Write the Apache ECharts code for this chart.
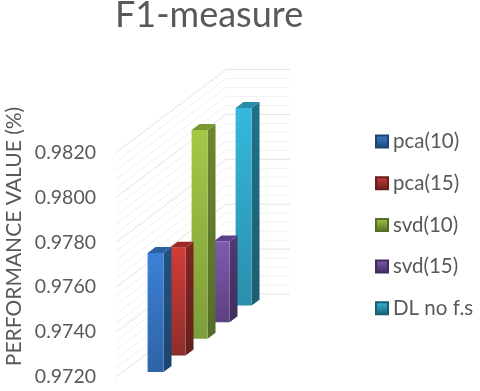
<!DOCTYPE html>
<html>
<head>
<meta charset="utf-8">
<style>
html, body { margin: 0; padding: 0; background: #fff; }
#chart { width: 480px; height: 391px; }
</style>
<script src="https://cdn.jsdelivr.net/npm/echarts@6/dist/echarts.min.js"></script>
</head>
<body>
<div id="chart"></div>
<script>
// values
const seriesNames = ['pca(10)', 'pca(15)', 'svd(10)', 'svd(15)', 'DL no f.s'];
const seriesValues = [0.9773, 0.9768, 0.9813, 0.9756, 0.9808];
const wallTicks = [];
for (let k = 0; k <= 25; k++) wallTicks.push(k);

const frontTop = ['#3c80d6', '#d33c37', '#a3c846', '#8159b0', '#35b8dc'];
const frontBottom = ['#2d64a6', '#8e2e2b', '#7d9e3a', '#5c4180', '#2a8eab'];
const sideTop = ['#22527f', '#7e2624', '#6c8830', '#4f3a72', '#21718a'];
const sideBottom = ['#1c4470', '#661f1d', '#546c27', '#3f2e5c', '#1b5d72'];
const topColor = ['#2c5f9e', '#9c2a27', '#7a9a30', '#5b3f88', '#2a8ca8'];

const yMin = 0.972;
const yMax = 0.982;
const wallWidth = 64;     // width of the floor, px
const skew = 83 / 110;    // rise of the depth axis

// oblique projection on top of the cartesian scales
function project(api, w, d, v) {
	let c = api.coord([d, v]);
	let x0 = api.coord([0, v])[0];
	return [c[0] + w, c[1] - (c[0] - x0) * skew];
}

function renderBar(params, api) {
	let d = api.value(0);
	let v = api.value(1);
	let i = params.seriesIndex - 1;
	let w0 = 25, w1 = 41;
	let d0 = d + 0.3, d1 = d + 0.66;
	let a = project(api, w0, d0, yMin), b = project(api, w1, d0, yMin);
	let c = project(api, w1, d0, v), e = project(api, w0, d0, v);
	let f = project(api, w1, d1, yMin), g = project(api, w1, d1, v), h = project(api, w0, d1, v);
	return {
		type: 'group',
		children: [
			{
				type: 'polygon',
				shape: { points: [b, f, g, c] },
				style: { fill: new echarts.graphic.LinearGradient(0, 0, 0, 1, [
					{ offset: 0, color: sideTop[i] }, { offset: 1, color: sideBottom[i] }]) }
			},
			{
				type: 'polygon',
				shape: { points: [e, c, g, h] },
				style: { fill: topColor[i] }
			},
			{
				type: 'polygon',
				shape: { points: [a, b, c, e] },
				style: { fill: new echarts.graphic.LinearGradient(0, 0, 0, 1, [
					{ offset: 0, color: frontTop[i] }, { offset: 1, color: frontBottom[i] }]) }
			}
		]
	};
}

function renderWall(params, api) {
	let k = api.value(0);
	let v = yMin + k * 0.0004;
	let depth = seriesNames.length;
	let color = k % 5 == 0 ? '#e3e3e3' : '#f1f1f1';
	return {
		type: 'polyline',
		shape: { points: [project(api, 0, 0, v), project(api, 0, depth, v), project(api, wallWidth, depth, v)] },
		style: { fill: 'none', stroke: color, lineWidth: 1 }
	};
}

let myChart = echarts.init(document.getElementById('chart'), null, { renderer: 'canvas' });
let series = [{
	type: 'custom',
	name: 'wall',
	z: 1,
	silent: true,
	clip: false,
	renderItem: renderWall,
	encode: { x: 0 },
	data: wallTicks.map(k => [k])
}];
seriesNames.forEach(function(name, i) {
	series.push({
		type: 'custom',
		name: name,
		z: 10 - i,
		clip: false,
		renderItem: renderBar,
		encode: { x: 0, y: 1 },
		itemStyle: {
			color: new echarts.graphic.LinearGradient(0, 0, 0, 1, [
				{ offset: 0, color: frontTop[i] }, { offset: 1, color: sideBottom[i] }]),
			borderColor: sideBottom[i],
			borderWidth: 1
		},
		data: [[i, seriesValues[i]]]
	});
});

let option = {
	animation: false,
	backgroundColor: '#fff',
	textStyle: { fontFamily: 'Lato' },
	title: {
		text: 'F1-measure',
		left: 110,
		top: -8,
		textStyle: { color: '#595959', fontSize: 36, fontWeight: 'normal', fontFamily: 'Lato' }
	},
	legend: {
		orient: 'vertical',
		left: 370,
		top: 126,
		itemWidth: 12,
		itemHeight: 12,
		itemGap: 20.7,
		icon: 'rect',
		data: seriesNames,
		textStyle: { color: '#595959', fontSize: 20.5, fontFamily: 'Lato' }
	},
	grid: { left: 116, top: 152.5, width: 110, height: 224.5, containLabel: false },
	xAxis: { type: 'value', min: 0, max: seriesNames.length, show: false },
	yAxis: {
		type: 'value',
		min: yMin,
		max: yMax,
		interval: 0.002,
		axisLine: { show: false },
		axisTick: { show: false },
		splitLine: { show: false },
		axisLabel: {
			color: '#595959',
			fontSize: 19.5,
			fontFamily: 'Lato',
			margin: 20,
			padding: [6, 0, 0, 0],
			formatter: v => v.toFixed(4)
		}
	},
	graphic: [{
		type: 'text',
		x: 14,
		y: 236.5,
		rotation: Math.PI / 2,
		style: {
			text: 'PERFORMANCE VALUE (%)',
			fill: '#595959',
			font: '21px Lato',
			textAlign: 'center',
			textVerticalAlign: 'middle'
		}
	}],
	series: series
};
myChart.setOption(option);
</script>
</body>
</html>
